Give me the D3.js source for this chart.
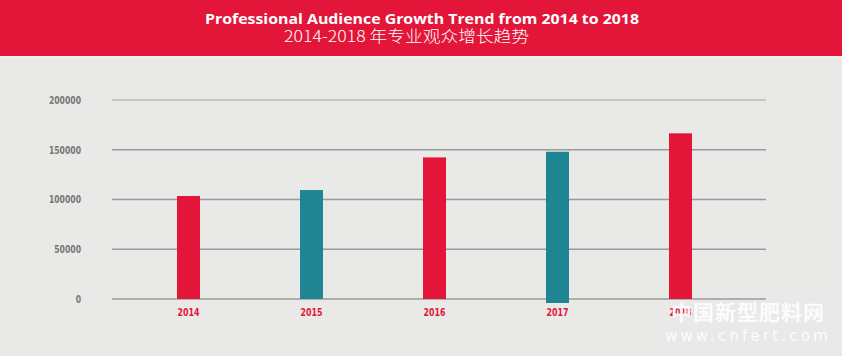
<!DOCTYPE html>
<html><head><meta charset="utf-8">
<script src="https://cdn.jsdelivr.net/npm/d3@7"></script>
<style>body{margin:0;background:#e9e9e8;} svg{display:block;}</style>
</head><body>
<script>
const years = ["2014","2015","2016","2017","2018"];
const audience = [103500, 109500, 142300, 148000, 166500];
const barColors = ["#e3163a","#1f8592","#e3163a","#1f8592","#e3163a"];
const yTicks = [0, 50000, 100000, 150000, 200000];
const titleEn = "Professional Audience Growth Trend from 2014 to 2018";
const titleZh = "2014-2018 年专业观众增长趋势";

const W = 842, H = 356;
const svg = d3.select("body").append("svg").attr("width", W).attr("height", H);
svg.append("rect").attr("width", W).attr("height", H).attr("fill", "#e9e9e8");
svg.append("rect").attr("width", W).attr("height", 56).attr("fill", "#e31639");
svg.append("rect").attr("y", 56).attr("width", W).attr("height", 3).attr("fill", "#f1efef");

svg.append("text").attr("x", 205).attr("y", 23.5)
  .attr("fill", "#fff").attr("font-family", "'Open Sans', Lato, sans-serif")
  .attr("font-weight", "bold").attr("font-size", 14)
  .attr("textLength", 434).attr("lengthAdjust", "spacingAndGlyphs").text(titleEn);
svg.append("text").attr("x", 284).attr("y", 42)
  .attr("fill", "#fff").attr("font-family", "'Noto Sans CJK SC', sans-serif")
  .attr("font-weight", "300").attr("font-size", 15.5)
  .attr("textLength", 245).attr("lengthAdjust", "spacingAndGlyphs").text(titleZh);

const y = d3.scaleLinear().domain([0, 200000]).range([299, 100]);
const x = d3.scaleBand().domain(years).range([127, 742]).paddingInner(0.813).paddingOuter(0.4065);

const grid = svg.append("g");
grid.selectAll("line").data(yTicks).join("line")
  .attr("x1", 112).attr("x2", 766)
  .attr("y1", d => y(d)).attr("y2", d => y(d))
  .attr("stroke", d => d === 200000 ? "#b9b9b9" : "#9a9a9a").attr("stroke-width", 1.6);

const yAxis = svg.append("g").attr("transform", "translate(81,0)")
  .call(d3.axisLeft(y).tickValues(yTicks).tickSize(0).tickPadding(0).tickFormat(d3.format("d")));
yAxis.select(".domain").remove();
yAxis.selectAll("text").attr("fill", "#767676")
  .attr("font-family", "'DejaVu Sans', sans-serif")
  .attr("font-weight", "bold").attr("font-size", 10.5)
  .attr("textLength", d => String(d).length * 5.35).attr("lengthAdjust", "spacingAndGlyphs");

svg.append("g").selectAll("rect").data(audience).join("rect")
  .attr("x", (d, i) => x(years[i])).attr("width", x.bandwidth())
  .attr("y", d => y(d)).attr("height", (d, i) => y(0) - y(d) + (i === 3 ? 4 : 0))
  .attr("fill", (d, i) => barColors[i]);

const xAxis = svg.append("g").attr("transform", "translate(0,299)")
  .call(d3.axisBottom(x).tickSize(0).tickPadding(16.7));
xAxis.select(".domain").remove();
xAxis.selectAll("text").attr("fill", "#e3163a")
  .attr("font-family", "'DejaVu Sans', sans-serif")
  .attr("font-weight", "bold").attr("font-size", 11).attr("dy", "0")
  .attr("textLength", 22).attr("lengthAdjust", "spacingAndGlyphs");

svg.append("text").attr("x", 748).attr("y", 320).attr("text-anchor", "middle")
  .attr("fill", "#fff").attr("opacity", 0.9)
  .attr("font-family", "'Noto Sans CJK SC', sans-serif").attr("font-weight", "bold")
  .attr("font-size", 21).attr("letter-spacing", 1).text("中国新型肥料网");
svg.append("text").attr("x", 748).attr("y", 341).attr("text-anchor", "middle")
  .attr("fill", "#fff").attr("opacity", 0.9)
  .attr("font-family", "'DejaVu Sans', sans-serif")
  .attr("font-size", 15).attr("letter-spacing", 3.2).text("www.cnfert.com");
</script>
</body></html>
